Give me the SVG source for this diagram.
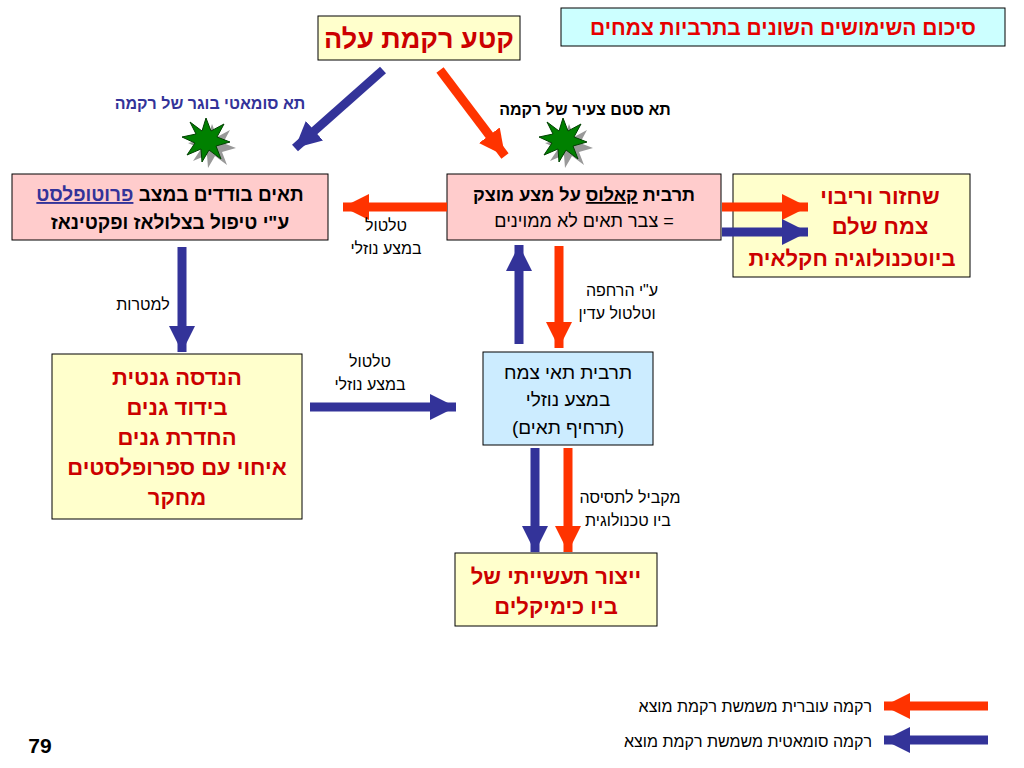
<svg xmlns="http://www.w3.org/2000/svg" width="1024" height="768" viewBox="0 0 1024 768">
<style>
text{font-family:"Liberation Sans",Arial,sans-serif;direction:rtl;text-anchor:middle}
.b{font-weight:bold}
.r{fill:#CC0000}
.box{stroke:#000;stroke-width:1}
.red{stroke:#FF3300;stroke-width:9;fill:none}
.blue{stroke:#333399;stroke-width:9;fill:none}
</style>
<defs>
<marker id="hr" markerUnits="userSpaceOnUse" markerWidth="30" markerHeight="30" refX="26" refY="13" orient="auto"><path d="M0,0 L26,13 L0,26 Z" fill="#FF3300"/></marker>
<marker id="hb" markerUnits="userSpaceOnUse" markerWidth="30" markerHeight="30" refX="26" refY="13" orient="auto"><path d="M0,0 L26,13 L0,26 Z" fill="#333399"/></marker>
<g id="plant">
<path transform="translate(6,6)" fill="#999" d="M0,-22 L5,-9 L18,-16 L11,-3 L24,2 L10,6 L15,19 L3,10 L-4,22 L-5,9 L-19,15 L-11,3 L-24,-3 L-10,-6 L-16,-18 L-4,-9 Z"/>
<path fill="#008000" stroke="#004000" stroke-width="1" d="M0,-22 L5,-9 L18,-16 L11,-3 L24,2 L10,6 L15,19 L3,10 L-4,22 L-5,9 L-19,15 L-11,3 L-24,-3 L-10,-6 L-16,-18 L-4,-9 Z"/>
</g>
</defs>
<rect width="1024" height="768" fill="#fff"/>

<g id="title"><rect class="box" x="561" y="8" width="444" height="38" fill="#CCFFFF"/><text class="b" x="783" y="35" font-size="21" fill="#E60000">סיכום השימושים השונים בתרביות צמחים</text></g>
<g id="leaf"><rect class="box" x="318" y="16" width="202" height="44" fill="#FFFFCC"/><text class="b r" x="419" y="48" font-size="27">קטע רקמת עלה</text></g>
<g id="protoplast"><rect class="box" x="12" y="174" width="316" height="66" fill="#FFCCCC"/>
<text class="b" x="170" y="201" font-size="19">תאים בודדים במצב <tspan fill="#333399" text-decoration="underline">פרוטופלסט</tspan></text>
<text class="b" x="170" y="229" font-size="19">ע"י טיפול בצלולאז ופקטינאז</text></g>
<g id="callus"><rect class="box" x="447" y="174" width="274" height="66" fill="#FFCCCC"/>
<text class="b" x="584" y="201" font-size="18">תרבית <tspan text-decoration="underline">קאלוס</tspan> על מצע מוצק</text>
<text x="584" y="227" font-size="18">= צבר תאים לא ממוינים</text></g>
<g id="regen"><rect class="box" x="733" y="174" width="237" height="103" fill="#FFFFCC"/>
<text class="b r" x="880" y="204" font-size="22">שחזור וריבוי</text>
<text class="b r" x="880" y="234" font-size="22">צמח שלם</text>
<text class="b r" x="852" y="266" font-size="22">ביוטכנולוגיה חקלאית</text></g>
<g id="genetic"><rect class="box" x="52" y="354" width="250" height="165" fill="#FFFFCC"/>
<text class="b r" x="177" y="385" font-size="22">הנדסה גנטית</text>
<text class="b r" x="177" y="415" font-size="22">בידוד גנים</text>
<text class="b r" x="177" y="445" font-size="22">החדרת גנים</text>
<text class="b r" x="177" y="475" font-size="22">איחוי עם ספרופלסטים</text>
<text class="b r" x="177" y="505" font-size="22">מחקר</text></g>
<g id="suspension"><rect class="box" x="483" y="352" width="170" height="93" fill="#CCECFF"/>
<text x="568" y="379" font-size="19">תרבית תאי צמח</text>
<text x="568" y="406" font-size="19">במצע נוזלי</text>
<text x="568" y="434" font-size="19">(תרחיף תאים)</text></g>
<g id="industry"><rect class="box" x="455" y="553" width="202" height="73" fill="#FFFFCC"/>
<text class="b r" x="556" y="584" font-size="22">ייצור תעשייתי של</text>
<text class="b r" x="556" y="614" font-size="22">ביו כימיקלים</text></g>

<g id="connectors">
<line class="blue" x1="383" y1="70" x2="295" y2="148" marker-end="url(#hb)"/>
<line class="red" x1="440" y1="70" x2="505" y2="156" marker-end="url(#hr)"/>
<line class="red" x1="447" y1="207" x2="343" y2="207" marker-end="url(#hr)"/>
<line class="red" x1="722" y1="207" x2="808" y2="207" marker-end="url(#hr)"/>
<line class="blue" x1="722" y1="232" x2="808" y2="232" marker-end="url(#hb)"/>
<line class="blue" x1="182" y1="247" x2="182" y2="352" marker-end="url(#hb)"/>
<line class="blue" x1="310" y1="407" x2="456" y2="407" marker-end="url(#hb)"/>
<line class="blue" x1="519" y1="344" x2="519" y2="245" marker-end="url(#hb)"/>
<line class="red" x1="559" y1="246" x2="559" y2="348" marker-end="url(#hr)"/>
<line class="blue" x1="535" y1="448" x2="535" y2="552" marker-end="url(#hb)"/>
<line class="red" x1="568" y1="448" x2="568" y2="552" marker-end="url(#hr)"/>
<line class="red" x1="988" y1="706" x2="884" y2="706" marker-end="url(#hr)"/>
<line class="blue" x1="988" y1="740" x2="884" y2="740" marker-end="url(#hb)"/>
</g>

<use href="#plant" x="206" y="140"/>
<use href="#plant" x="563" y="140"/>

<g id="labels" font-size="16">
<text class="b" x="210" y="109" fill="#333399">תא סומאטי בוגר של רקמה</text>
<text class="b" x="585" y="115">תא סטם צעיר של רקמה</text>
<text x="386" y="231">טלטול</text><text x="386" y="254">במצע נוזלי</text>
<text x="143" y="310">למטרות</text>
<text x="370" y="367">טלטול</text><text x="370" y="390">במצע נוזלי</text>
<text x="622" y="296">ע"י הרחפה</text><text x="617" y="319">וטלטול עדין</text>
<text x="630" y="503">מקביל לתסיסה</text><text x="628" y="526">ביו טכנולוגית</text>
<text x="872" y="712" style="text-anchor:start">רקמה עוברית משמשת רקמת מוצא</text>
<text x="872" y="747" style="text-anchor:start">רקמה סומאטית משמשת רקמת מוצא</text>
<text class="b" x="40" y="753" font-size="21" style="direction:ltr">79</text>
</g>
</svg>
